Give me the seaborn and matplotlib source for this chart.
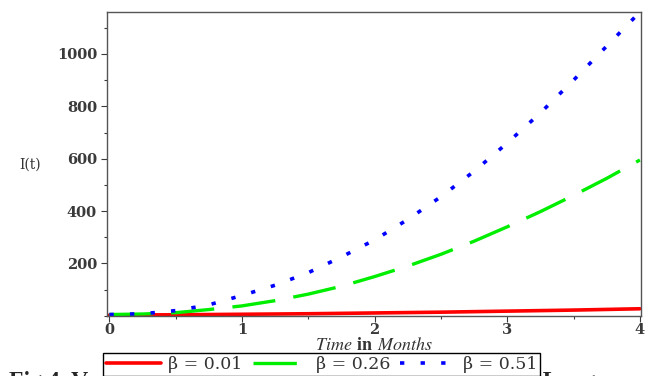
import matplotlib
matplotlib.use("Agg")
import matplotlib.pyplot as plt
import seaborn as sns
import pandas as pd
from matplotlib.ticker import MultipleLocator

t = [0, 0.25, 0.5, 0.75, 1, 1.25, 1.5, 1.75, 2, 2.25, 2.5, 2.75, 3, 3.25, 3.5, 3.75, 4]
i_b001 = [3, 3.5, 4, 5, 6, 7, 8, 9.5, 11, 12.5, 14, 16, 18, 20, 22, 24.5, 27]
i_b026 = [5, 7, 12, 24, 38, 58, 83, 113, 150, 190, 235, 285, 340, 398, 460, 525, 595]
i_b051 = [5, 8, 20, 42, 78, 117, 165, 225, 290, 368, 455, 552, 660, 775, 900, 1030, 1160]
labels = ["β = 0.01", "β = 0.26", "β = 0.51"]
colors = ["#ff0000", "#00ee00", "#0000ff"]
caption = "Fig 4. Variation and Impact of Cancer Drug Dose on Long"

df = pd.concat([
    pd.DataFrame({"t": t, "I": v, "beta": lab})
    for v, lab in zip([i_b001, i_b026, i_b051], labels)
])

sns.set_style("white")
plt.rcParams['font.family'] = ['DejaVu Serif', 'Liberation Serif']
plt.rcParams['mathtext.fontset'] = 'stix'

fig = plt.figure(figsize=(6.51, 3.76), dpi=100)
ax = fig.add_axes([0.164, 0.16, 0.821, 0.808])

styles = {labels[0]: "-", labels[1]: (0, (13, 5.5)), labels[2]: (0, (1.2, 4.5))}
widths = {labels[0]: 2.6, labels[1]: 2.4, labels[2]: 2.6}
for lab, col in zip(labels, colors):
    sub = df[df["beta"] == lab]
    sns.lineplot(data=sub, x="t", y="I", ax=ax, color=col, linewidth=widths[lab],
                 label=lab, estimator=None, sort=True)
for ln, lab in zip(ax.get_lines(), labels):
    ln.set_linestyle(styles[lab])
    ln.set_dash_capstyle("butt")

ax.set_xlim(-0.02, 4.01)
ax.set_ylim(0, 1160)
ax.set_xticks([0, 1, 2, 3, 4])
ax.set_yticks([200, 400, 600, 800, 1000])
ax.xaxis.set_minor_locator(MultipleLocator(0.5))
ax.yaxis.set_minor_locator(MultipleLocator(100))
ax.tick_params(axis="both", which="major", direction="out", length=4, width=0.8,
               labelsize=10.5, colors="#3a3a3a", bottom=True, left=True, pad=3)
ax.tick_params(axis="x", which="major", pad=1.5)
ax.tick_params(axis="both", which="minor", direction="out", length=2.5, width=0.8,
               colors="#3a3a3a", bottom=True, left=True)
for lbl in ax.get_xticklabels() + ax.get_yticklabels():
    lbl.set_fontweight("bold")
for sp in ax.spines.values():
    sp.set_color("#555555")
    sp.set_linewidth(1.0)

ax.set_xlabel(r"$\mathit{Time}$ $\mathbf{in}$ $\mathit{Months}$", fontsize=13,
              color="#333333", labelpad=-1)
ax.set_ylabel("I(t)", rotation=0, fontsize=10, color="#333333", labelpad=0,
              ha="center", va="center")
ax.yaxis.set_label_coords(-0.144, 0.497)

ax.get_legend().remove()
handles = ax.get_lines()[:3]

fig.text(0.014, 0.014, caption, fontsize=17, fontweight="bold", family="Liberation Serif",
         ha="left", va="top", zorder=1)
leg = fig.legend(handles, labels, loc="upper center", bbox_to_anchor=(0.494, 0.06),
                 borderaxespad=0.0,
                 ncol=3, frameon=True, fontsize=12.5, handlelength=3.2,
                 columnspacing=0.6, handletextpad=0.4, borderpad=0.15,
                 fancybox=False, edgecolor="black")
leg.get_frame().set_linewidth(1.0)
leg.get_frame().set_facecolor("white")
leg.get_frame().set_alpha(1)
leg.set_zorder(5)
for txt in leg.get_texts():
    txt.set_color("#333333")

fig.savefig("out.png", dpi=100)
